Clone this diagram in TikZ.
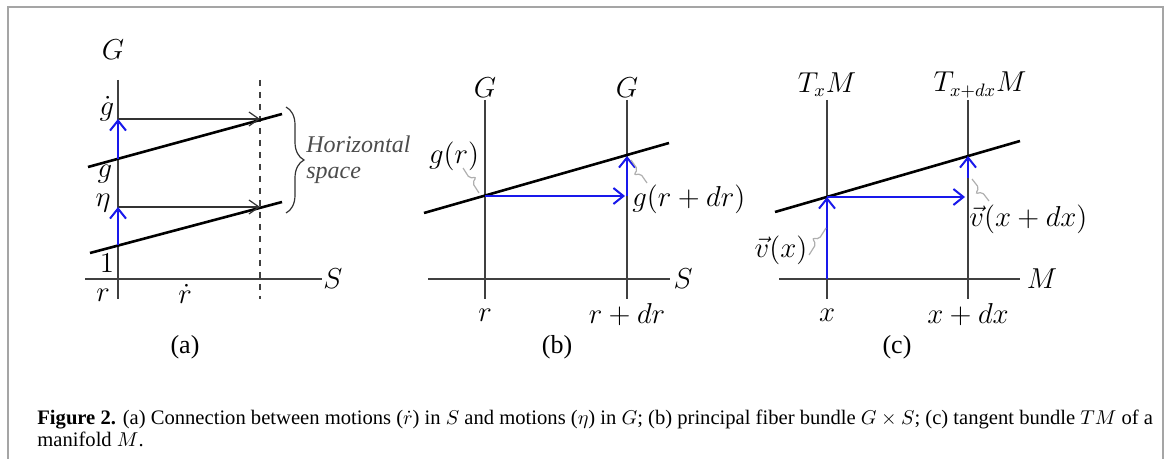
\documentclass[tikz,border=0pt]{standalone}
\usepackage{fontspec}
\setmainfont{Liberation Serif}
\usetikzlibrary{arrows.meta, calc, decorations.pathreplacing}

\definecolor{vecblue}{RGB}{25,25,235}
\definecolor{framegray}{RGB}{165,165,165}
\definecolor{squiggray}{RGB}{175,175,175}

\begin{document}
\begin{tikzpicture}[
    x=0.5pt, y=-0.5pt,
    every node/.style={font=\fontsize{13.5}{15}\selectfont, inner sep=1pt},
    axisline/.style={draw=black!75, line width=0.9pt},
    slant/.style={draw=black, line width=1.3pt},
    lift/.style={-{Straight Barb[length=5pt, width=7pt]}, draw=black!80, line width=0.6pt},
    vec/.style={-{Straight Barb[length=5pt, width=8pt]}, draw=vecblue, line width=1pt},
    squig/.style={draw=squiggray, line width=0.6pt, rounded corners=1pt,
        to path={-- ($(\tikztostart)!0.4!(\tikztotarget)$)
                 -- ($(\tikztostart)!0.5!(\tikztotarget)!3pt!90:(\tikztotarget)$)
                 -- ($(\tikztostart)!0.6!(\tikztotarget)$) -- (\tikztotarget)}},
    panel/.style={font=\fontsize{13}{15}\selectfont}
]
\useasboundingbox (0,0) rectangle (1171,459);
\draw[framegray, line width=1pt] (8,470) -- (8,7) -- (1163,7) -- (1163,470);

% (a) connection
\coordinate (aTop) at (118,80);
\coordinate (aBot) at (118,299);
\coordinate (aSl) at (85,279);
\coordinate (aSr) at (322,279);
\coordinate (dTop) at (260,80);
\coordinate (dBot) at (260,299);
\coordinate (gdot) at (118,119);
\coordinate (gpt) at (118,159);
\coordinate (eta) at (118,207);
\coordinate (one) at (118,245);
\coordinate (gdotR) at (260,119);
\coordinate (etaR) at (260,207);
\draw[axisline] (aTop) -- (aBot);
\draw[axisline] (aSl) -- (aSr);
\draw[axisline, dashed, line width=0.7pt] (dTop) -- (dBot);
\draw[slant] (88,167) -- (282,114);
\draw[slant] (90,253) -- (282,202);
\draw[lift] (gdot) -- (gdotR);
\draw[lift] (eta) -- (etaR);
\draw[vec] (gpt) -- (gdot);
\draw[vec] (one) -- (eta);
\node (aG) at (113,50) {$G$};
\node (aS) at (333,279) {$S$};
\node (agd) at (107,109) {$\dot g$};
\node (ag) at (105,174) {$g$};
\node (aeta) at (103,203) {$\eta$};
\node (aone) at (107,263) {$1$};
\node (ar) at (103,295) {$r$};
\node (ard) at (185,294) {$\dot r$};
\draw[black!80, line width=0.6pt, decorate, decoration={brace, amplitude=9pt}] (286,107) -- (286,213);
\node[anchor=west, align=left, text=black!70, font=\fontsize{12}{13}\selectfont\itshape] (hs) at (304,160) {Horizontal\\space};
\node[panel] (la) at (185,347) {(a)};

% (b) principal fiber bundle
\coordinate (bLt) at (485,100);
\coordinate (bLb) at (485,299);
\coordinate (bRt) at (627,100);
\coordinate (bRb) at (627,299);
\coordinate (bSl) at (428,279);
\coordinate (bSr) at (670,279);
\coordinate (bp) at (485,196);
\coordinate (bq) at (625,196);
\coordinate (bqq) at (627,196);
\coordinate (bs) at (627,156);
\draw[axisline] (bLt) -- (bLb);
\draw[axisline] (bRt) -- (bRb);
\draw[axisline] (bSl) -- (bSr);
\draw[slant] (424,213) -- (669,143);
\draw[vec] (bp) -- (bq);
\draw[vec] (bqq) -- (bs);
\node (bG1) at (485,88) {$G$};
\node (bG2) at (627,88) {$G$};
\node (bS) at (683,279) {$S$};
\node (br) at (485,315) {$r$};
\node (brdr) at (627,315) {$r+dr$};
\node (bgr) at (454,156) {$g(r)$};
\node[anchor=west] (bgrdr) at (630,199) {$g(r+dr)$};
\draw[squig] (463,168) to (479,193);
\draw[squig] (647,183) to (631,160);
\node[panel] (lb) at (557,347) {(b)};

% (c) tangent bundle
\coordinate (cLt) at (827,100);
\coordinate (cLb) at (827,299);
\coordinate (cRt) at (968,100);
\coordinate (cRb) at (968,299);
\coordinate (cMl) at (779,279);
\coordinate (cMr) at (1020,279);
\coordinate (cx) at (827,279);
\coordinate (cp) at (827,197);
\coordinate (cq) at (965,197);
\coordinate (cu) at (968,178);
\coordinate (cs) at (968,156);
\draw[axisline] (cLt) -- (cLb);
\draw[axisline] (cRt) -- (cRb);
\draw[axisline] (cMl) -- (cMr);
\draw[slant] (775,212) -- (1020,141);
\draw[vec] (cx) -- (cp);
\draw[vec] (cp) -- (cq);
\draw[vec] (cu) -- (cs);
\node (cT1) at (827,85) {$T_xM$};
\node (cT2) at (980,85) {$T_{x+dx}M$};
\node (cM) at (1042,279) {$M$};
\node (cxl) at (827,315) {$x$};
\node (cxdx) at (968,315) {$x+dx$};
\node (cv) at (781,250) {$\vec v(x)$};
\node[anchor=west] (cvdx) at (967,219) {$\vec v(x+dx)$};
\draw[squig] (809,255) to (826,228);
\draw[squig] (989,201) to (972,179);
\node[panel] (lc) at (897,347) {(c)};

% caption
\node[anchor=base west, inner sep=0pt, font=\fontsize{10.3}{12}\selectfont] (cap1) at (37,424)
  {\textbf{Figure 2.} (a) Connection between motions ($\dot r$) in $S$ and motions ($\eta$) in $G$; (b) principal fiber bundle $G\times S$; (c) tangent bundle $TM$ of a};
\node[anchor=base west, inner sep=0pt, font=\fontsize{10.3}{12}\selectfont] (cap2) at (37,446)
  {manifold $M$.};
\end{tikzpicture}
\end{document}
